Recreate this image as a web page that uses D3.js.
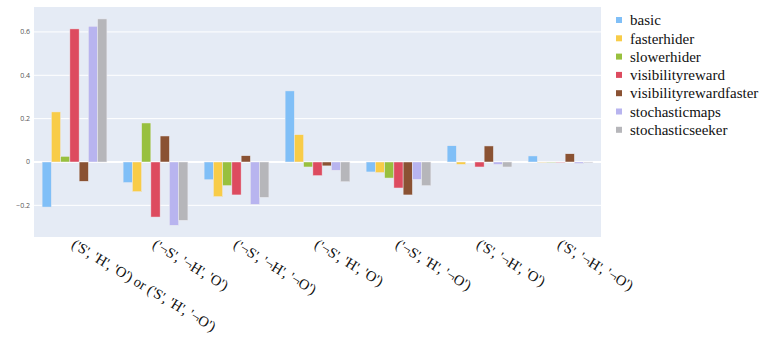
<!DOCTYPE html>
<html>
<head>
<meta charset="utf-8">
<script src="https://cdn.jsdelivr.net/npm/d3@7"></script>
<style>
body { margin: 0; background: #fff; }
svg { display: block; }
.serif { font-family: "Liberation Serif", "Times New Roman", Times, "DejaVu Serif", serif; }
</style>
</head>
<body>
<svg id="chart" width="761" height="338"></svg>
<script>
"use strict";

var categories = ["('S', 'H', 'O') or ('S', 'H', '¬O')", "('¬S', '¬H', 'O')", "('¬S', '¬H', '¬O')",
	"('¬S', 'H', 'O')", "('¬S', 'H', '¬O')", "('S', '¬H', 'O')", "('S', '¬H', '¬O')"];
var seriesNames = ["basic", "fasterhider", "slowerhider", "visibilityreward",
	"visibilityrewardfaster", "stochasticmaps", "stochasticseeker"];
var seriesColors = ["#80bff7", "#f8cc48", "#98c03e", "#dd4b5f", "#8a5233", "#b8b4ef", "#b6b6ba"];

var basic = [-0.208, -0.095, -0.082, 0.328, -0.046, 0.075, 0.028];
var fasterhider = [0.231, -0.137, -0.160, 0.126, -0.049, -0.011, -0.002];
var slowerhider = [0.026, 0.180, -0.109, -0.023, -0.074, 0.000, -0.002];
var visibilityreward = [0.614, -0.254, -0.152, -0.063, -0.120, -0.023, -0.002];
var visibilityrewardfaster = [-0.089, 0.120, 0.029, -0.018, -0.152, 0.074, 0.038];
var stochasticmaps = [0.626, -0.292, -0.195, -0.038, -0.080, -0.011, -0.007];
var stochasticseeker = [0.660, -0.269, -0.163, -0.091, -0.109, -0.023, -0.004];

var seriesValues = [basic, fasterhider, slowerhider, visibilityreward,
	visibilityrewardfaster, stochasticmaps, stochasticseeker];
var yTicks = [-0.2, 0, 0.2, 0.4, 0.6];

var svg = d3.select("#chart");
var plotLeft = 34, plotRight = 601, plotTop = 7, plotBottom = 237;

var x = d3.scaleBand().domain(categories).range([plotLeft, plotRight]).paddingInner(0.2).paddingOuter(0.1);
var xi = d3.scaleBand().domain(seriesNames).range([0, x.bandwidth()]);
var y = d3.scaleLinear().domain([-0.346, 0.715]).range([plotBottom, plotTop]);

// plot background
svg.append("rect")
	.attr("x", plotLeft).attr("y", plotTop)
	.attr("width", plotRight-plotLeft).attr("height", plotBottom-plotTop)
	.style("fill", "#e5ebf5");

// grid
svg.append("g").selectAll("line").data(yTicks).enter().append("line")
	.attr("x1", plotLeft).attr("x2", plotRight)
	.attr("y1", function(d){ return y(d); })
	.attr("y2", function(d){ return y(d); })
	.style("stroke", "#fff")
	.style("stroke-width", function(d){ return d === 0 ? 2 : 1; });

// y tick labels
svg.append("g").selectAll("text").data(yTicks).enter().append("text")
	.attr("x", plotLeft-4)
	.attr("y", function(d){ return y(d); })
	.attr("dy", "0.35em")
	.attr("text-anchor", "end")
	.style("font-family", "'Open Sans', sans-serif")
	.style("font-size", "7px")
	.style("fill", "#555")
	.text(function(d){ return d === 0 ? "0" : d3.format(".1f")(d).replace("-", "\u2212"); });

// bars
var groups = svg.append("g").selectAll("g").data(seriesNames).enter().append("g")
	.style("fill", function(d, i){ return seriesColors[i]; });

groups.selectAll("rect")
	.data(function(name, i){
		return categories.map(function(c, j){ return {cat: c, name: name, v: seriesValues[i][j]}; });
	})
	.enter().append("rect")
	.attr("x", function(d){ return x(d.cat) + xi(d.name); })
	.attr("width", xi.bandwidth())
	.attr("y", function(d){ return y(Math.max(0, d.v)); })
	.attr("height", function(d){ return Math.abs(y(d.v) - y(0)); })
	.style("stroke", "#ececf2")
	.style("stroke-width", 0.5);

// x labels
svg.append("g").selectAll("text").data(categories).enter().append("text")
	.attr("class", "serif")
	.attr("transform", function(d){
		return "translate(" + (x(d) + x.bandwidth()/2 - 4) + "," + (plotBottom+10) + "),rotate(31)";
	})
	.attr("text-anchor", "start")
	.style("font-size", "14.5px")
	.style("fill", "#111")
	.text(function(d){ return d; });

// legend
var legend = svg.append("g").selectAll("g").data(seriesNames).enter().append("g")
	.attr("transform", function(d, i){ return "translate(616," + (20 + i*18.3) + ")"; });
legend.append("rect")
	.attr("x", 0).attr("y", -3)
	.attr("width", 6).attr("height", 6)
	.style("fill", function(d, i){ return seriesColors[i]; });
legend.append("text")
	.attr("class", "serif")
	.attr("x", 14).attr("dy", "0.35em")
	.style("font-size", "15px")
	.style("fill", "#111")
	.text(function(d){ return d; });
</script>
</body>
</html>
